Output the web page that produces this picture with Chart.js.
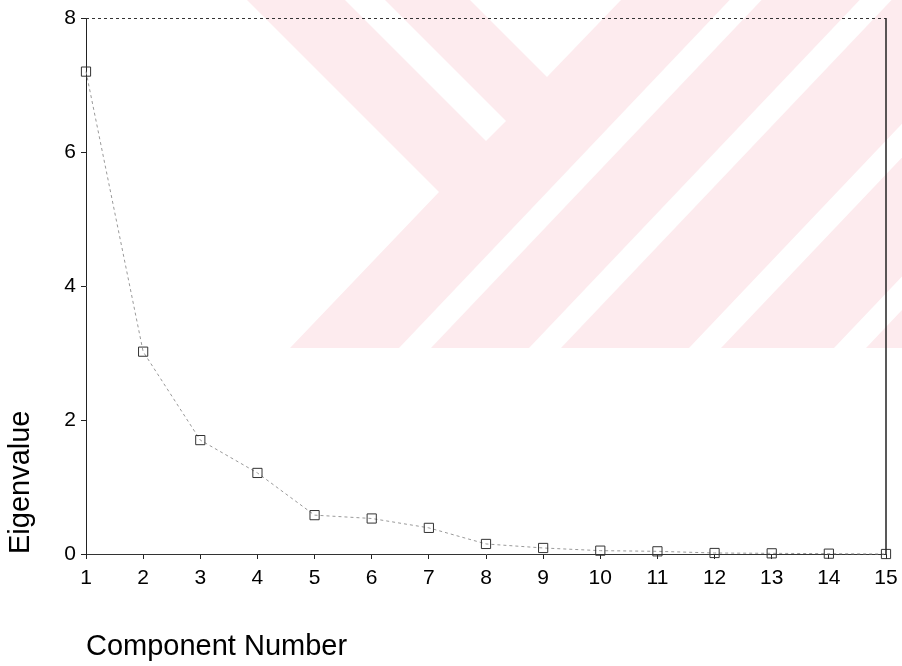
<!DOCTYPE html>
<html>
<head>
<meta charset="utf-8">
<script src="https://cdn.jsdelivr.net/npm/chart.js@4.4.1/dist/chart.umd.min.js"></script>
<style>
  html, body { margin: 0; padding: 0; background: #ffffff; }
  #wrap { width: 902px; height: 666px; position: relative; }
</style>
</head>
<body>
<div id="wrap"><canvas id="c" width="902" height="666"></canvas></div>
<script>
// ---- data ----
const components = [1, 2, 3, 4, 5, 6, 7, 8, 9, 10, 11, 12, 13, 14, 15];
const eigenvalues = [7.20, 3.02, 1.70, 1.21, 0.58, 0.53, 0.39, 0.15, 0.09, 0.05, 0.04, 0.015, 0.01, 0.005, 0.0];
const yTicks = [0, 2, 4, 6, 8];
const xTitle = 'Component Number';
const yTitle = 'Eigenvalue';

const FONT = '"Liberation Sans", Arial, Helvetica, sans-serif';

// faint pink watermark behind the plot (decoration only)
const watermark = {
  id: 'watermark',
  beforeDraw(chart) {
    const ctx = chart.ctx;
    ctx.save();
    ctx.fillStyle = '#fdebee';
    ctx.beginPath();
    ctx.moveTo(247, 0); ctx.lineTo(902, 0); ctx.lineTo(902, 348);
    ctx.lineTo(290, 348); ctx.lineTo(439, 192); ctx.closePath();
    ctx.fill();
    ctx.fillStyle = '#ffffff';
    // "\" white stripe
    ctx.beginPath();
    ctx.moveTo(345, 0); ctx.lineTo(385, 0); ctx.lineTo(506, 121); ctx.lineTo(486, 141); ctx.closePath();
    ctx.fill();
    // V notch
    ctx.beginPath();
    ctx.moveTo(470, 0); ctx.lineTo(621, 0); ctx.lineTo(547, 77); ctx.closePath();
    ctx.fill();
    // "/" white stripes
    const k = 0.95, w = 32;
    [415, 545, 705, 850].forEach(c => {
      const x0 = c - w / 2;
      ctx.beginPath();
      ctx.moveTo(x0, 348); ctx.lineTo(x0 + w, 348);
      ctx.lineTo(x0 + w + 348 * k, 0); ctx.lineTo(x0 + 348 * k, 0); ctx.closePath();
      ctx.fill();
    });
    ctx.restore();
  },
  afterDraw(chart) {
    const {ctx, chartArea: a} = chart;
    ctx.save();
    ctx.strokeStyle = '#333';
    ctx.lineWidth = 1;
    ctx.setLineDash([3, 3]);
    ctx.beginPath(); ctx.moveTo(a.left, a.top + 0.5); ctx.lineTo(a.right, a.top + 0.5); ctx.stroke();
    ctx.setLineDash([]);
    ctx.lineWidth = 1.5;
    ctx.strokeStyle = '#222';
    ctx.beginPath(); ctx.moveTo(a.right, a.top); ctx.lineTo(a.right, a.bottom); ctx.stroke();
    ctx.restore();
  }
};

const points = components.map((c, i) => ({ x: c, y: eigenvalues[i] }));

new Chart(document.getElementById('c'), {
  type: 'line',
  data: {
    datasets: [{
      data: points,
      borderColor: '#999',
      borderWidth: 1,
      borderDash: [3, 3],
      tension: 0,
      fill: false,
      clip: false,
      pointStyle: 'rect',
      pointRadius: 6.5,
      pointBorderColor: '#333',
      pointBorderWidth: 1,
      pointBackgroundColor: 'rgba(0,0,0,0)'
    }]
  },
  options: {
    responsive: false,
    animation: false,
    devicePixelRatio: 1,
    layout: { padding: { top: 18, right: 16, left: 0, bottom: 0 } },
    plugins: { legend: { display: false }, tooltip: { enabled: false } },
    scales: {
      x: {
        type: 'linear',
        min: components[0],
        max: components[components.length - 1],
        afterFit(s) { s.height = 112; s.paddingRight = 0; },
        ticks: {
          stepSize: 1,
          color: '#000',
          padding: 7,
          font: { family: FONT, size: 21 }
        },
        grid: { drawOnChartArea: false, drawTicks: true, tickLength: 5, color: '#222' },
        border: { display: true, color: '#333', width: 1, dash: [2, 3] },
        title: {
          display: true,
          text: xTitle,
          align: 'start',
          color: '#000',
          font: { family: FONT, size: 29 },
          padding: { top: 0, bottom: 2 }
        }
      },
      y: {
        type: 'linear',
        min: yTicks[0],
        max: yTicks[yTicks.length - 1],
        afterFit(s) { s.width = 86; },
        afterBuildTicks(s) { s.ticks = yTicks.map(v => ({ value: v })); },
        ticks: {
          color: '#000',
          padding: 5,
          font: { family: FONT, size: 21 }
        },
        grid: { drawOnChartArea: false, drawTicks: true, tickLength: 5, color: '#222' },
        border: { display: true, color: '#222', width: 1 },
        title: {
          display: true,
          text: yTitle,
          align: 'start',
          color: '#000',
          font: { family: FONT, size: 29 },
          padding: { top: 4, bottom: 0 }
        }
      }
    }
  },
  plugins: [watermark]
});
</script>
</body>
</html>
